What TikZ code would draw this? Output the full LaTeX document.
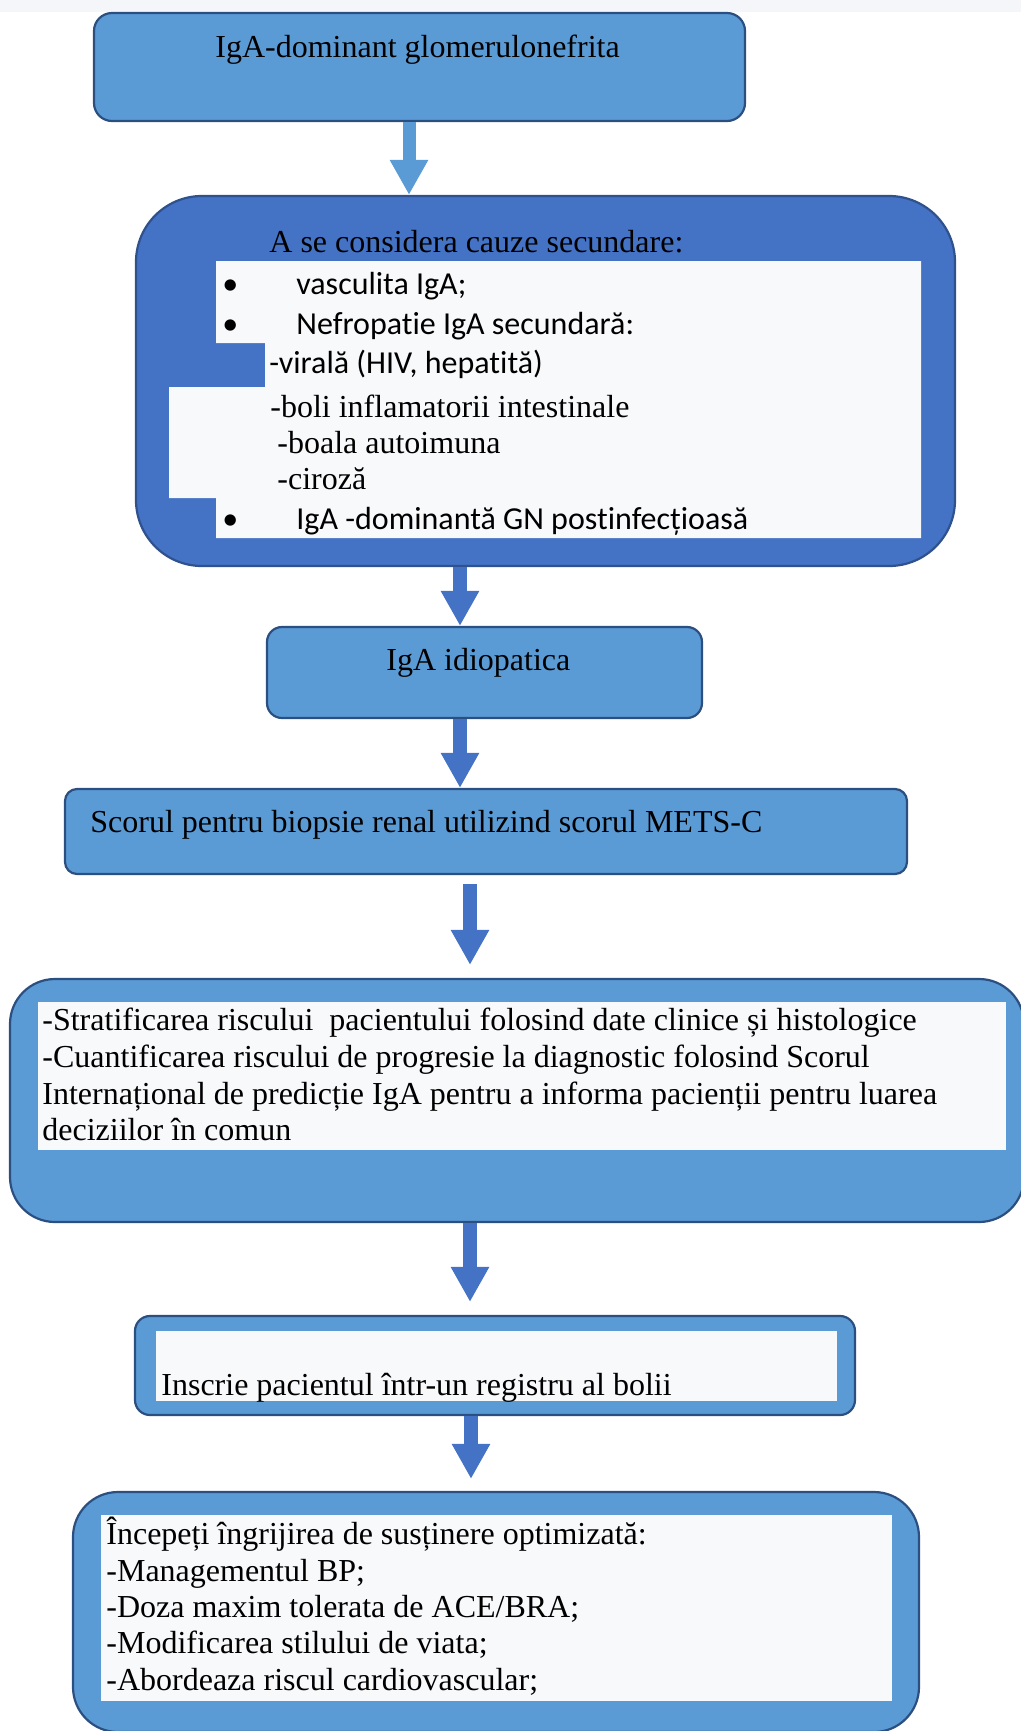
\documentclass[tikz,border=0pt]{standalone}
\usepackage{fontspec}
\setmainfont{Liberation Serif}
\newfontfamily\calfont[Ligatures={NoCommon,NoRare,NoContextual}]{Carlito}
\usetikzlibrary{arrows.meta}
\definecolor{lb}{HTML}{5B9BD5}
\definecolor{lbd}{HTML}{2B4F80}
\definecolor{db}{HTML}{4472C4}
\definecolor{dbd}{HTML}{2F528F}
\definecolor{pn}{HTML}{F8F9FB}
\definecolor{band}{HTML}{F4F6F9}
\begin{document}
\begin{tikzpicture}[x=0.5pt,y=-0.5pt,
  lbox/.style={draw=lbd, fill=lb, line width=1.1pt, rounded corners=#1, inner sep=0pt},
  dbox/.style={draw=dbd, fill=db, line width=1.1pt, rounded corners=#1, inner sep=0pt},
  barrow/.style={draw=#1, line width=7pt, -{Triangle[width=18pt,length=17.5pt]}},
  tx/.style={anchor=base west, inner sep=0pt, font=\fontsize{16pt}{18pt}\selectfont},
  sx/.style={anchor=base west, inner sep=0pt, font=\calfont\fontsize{16pt}{18pt}\selectfont},
  panel/.style={fill=pn}]
\useasboundingbox (0,0) rectangle (1021,1731);
\fill[band] (0,0) rectangle (1021,12);

% boxes
\node[lbox=9pt, minimum width=325.5pt, minimum height=54pt] (b1) at (419.5,67) {};
\node[dbox=33pt, minimum width=409.5pt, minimum height=185pt] (b2) at (545.5,381) {};
\node[lbox=7.5pt, minimum width=217.5pt, minimum height=45.5pt] (b3) at (484.5,672.5) {};
\node[lbox=6pt, minimum width=421pt, minimum height=42.5pt] (b4) at (486,831.5) {};
\node[lbox=22.5pt, minimum width=507pt, minimum height=121.5pt] (b5) at (517,1100.5) {};
\node[lbox=7.5pt, minimum width=360pt, minimum height=49.5pt] (b6) at (495,1365.5) {};
\node[lbox=22.5pt, minimum width=423pt, minimum height=120pt] (b7) at (496,1612) {};

% white panels
\fill[panel] (216,261) -- (921,261) -- (921,538) -- (216,538) -- (216,498) -- (169,498)
  -- (169,387) -- (265,387) -- (265,343) -- (216,343) -- cycle;
\fill[panel] (38,1002) rectangle (1006,1150);
\fill[panel] (156,1331) rectangle (837,1401);
\fill[panel] (101,1515) rectangle (892,1701);

% arrows
\coordinate (x1) at (409,0);
\coordinate (x2) at (460,0);
\coordinate (x3) at (470,0);
\coordinate (x4) at (471,0);
\draw[barrow=lb, line width=6.5pt] (b1.south -| x1) -- (b2.north -| x1);
\draw[barrow=db] (b2.south -| x2) -- (b3.north -| x2);
\draw[barrow=db] (b3.south -| x2) -- (b4.north -| x2);
\draw[barrow=db, shorten <=4.5pt, shorten >=6.5pt] (b4.south -| x3) -- (b5.north -| x3);
\draw[barrow=db, shorten >=6.5pt] (b5.south -| x3) -- (b6.north -| x3);
\draw[barrow=db, shorten >=6pt] (b6.south -| x4) -- (b7.north -| x4);

% texts
\node[tx] (t1) at (215,57) {IgA-dominant glomerulonefrita};

\node[tx] (t2a) at (269,252) {A se considera cauze secundare:};
\node[sx] (t2b0) at (222,294) {•};
\node[sx] (t2b) at (296,294) {vasculita IgA;};
\node[sx] (t2c0) at (222,334) {•};
\node[sx] (t2c) at (296,334) {Nefropat\kern0pt ie IgA secundară:};
\node[sx] (t2d) at (269,373) {-virală (HIV, hepat\kern0pt ită)};
\node[tx] (t2e) at (270,417) {-boli inflamatorii intestinale};
\node[tx] (t2f) at (277,453) {-boala autoimuna};
\node[tx] (t2g) at (277,489) {-ciroză};
\node[sx] (t2h0) at (222,529) {•};
\node[sx] (t2h) at (296,529) {IgA -dominantă GN postinfecțioasă};

\node[tx] (t3) at (386,670) {IgA idiopatica};
\node[tx] (t4) at (90,832) {Scorul pentru biopsie renal utilizind scorul METS-C};

\node[tx] (t5a) at (42,1030) {-Stratificarea riscului\ \ pacientului folosind date clinice și histologice};
\node[tx] (t5b) at (42,1067) {-Cuantificarea riscului de progresie la diagnostic folosind Scorul};
\node[tx] (t5c) at (42,1104) {Internațional de predicție IgA pentru a informa pacienții pentru luarea};
\node[tx] (t5d) at (42,1140) {deciziilor în comun};

\node[tx] (t6) at (161,1395) {Inscrie pacientul într-un registru al bolii};

\node[tx] (t7a) at (106,1544) {Începeți îngrijirea de susținere optimizată:};
\node[tx] (t7b) at (106,1581) {-Managementul BP;};
\node[tx] (t7c) at (106,1617) {-Doza maxim tolerata de ACE/BRA;};
\node[tx] (t7d) at (106,1653) {-Modificarea stilului de viata;};
\node[tx] (t7e) at (106,1690) {-Abordeaza riscul cardiovascular;};
\end{tikzpicture}
\end{document}
